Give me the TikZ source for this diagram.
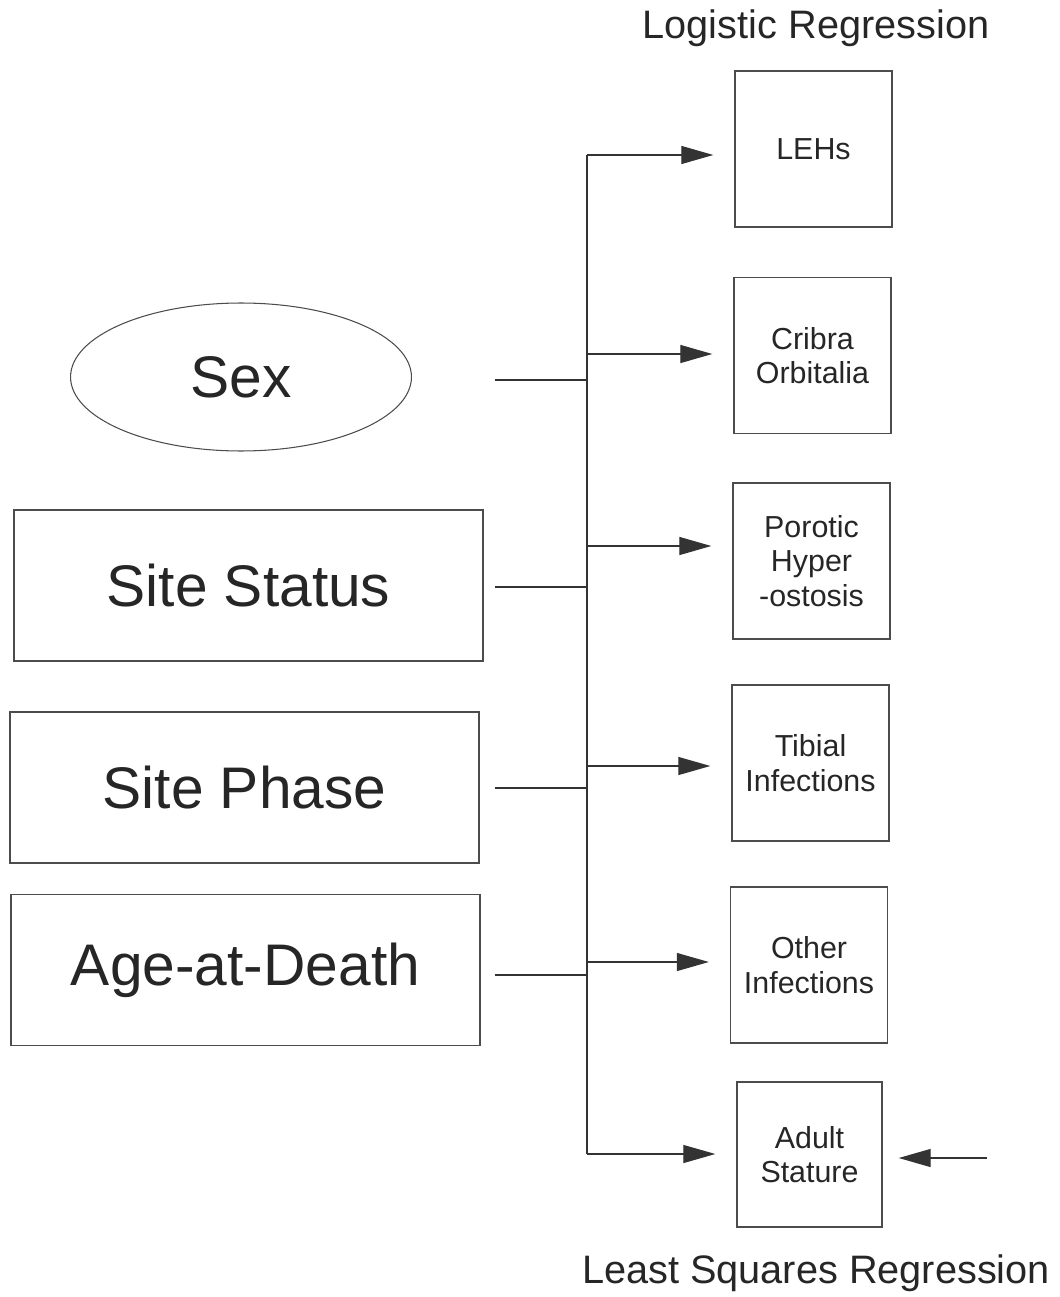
\documentclass[tikz,border=0pt]{standalone}
\usepackage{fontspec}
\setmainfont{Liberation Sans}
\usetikzlibrary{arrows.meta,shapes.geometric}

\begin{document}
\begin{tikzpicture}[x=0.02cm,y=-0.02cm,
    bigbox/.style={draw=black!70,line width=0.8pt,minimum width=9.38cm,minimum height=3.02cm,
      font=\fontsize{33.4}{38}\selectfont,text=black!85},
    smallbox/.style={draw=black!70,line width=0.8pt,minimum width=3.14cm,minimum height=3.12cm,
      align=center,font=\fontsize{17.3}{19.5}\selectfont,text=black!85},
    title/.style={font=\fontsize{22.6}{26}\selectfont,text=black!85},
    link/.style={line width=0.7pt,draw=black!80},
    arr/.style={link,-{Triangle[length=0.64cm,width=0.36cm]}}]
            \useasboundingbox (0,0) rectangle (1060,1297);

            % predictors
            \node[ellipse,draw=black!70,line width=0.6pt,minimum width=6.82cm,minimum height=2.96cm,
              font=\fontsize{33.4}{38}\selectfont,text=black!85] (sex) at (241,377) {Sex};
            \node[bigbox] (status) at (248.5,585.5) {Site Status};
            \node[bigbox] (phase) at (244.5,787.5) {Site Phase};
            \node[bigbox] (age) at (245.5,970) {Age-at-Death};

            % outcomes
            \node[smallbox] (leh) at (813.5,149) {LEHs};
            \node[smallbox] (cribra) at (812.5,355.5) {Cribra\\Orbitalia};
            \node[smallbox] (porotic) at (811.5,561) {Porotic\\Hyper\\-ostosis};
            \node[smallbox] (tibial) at (810.5,763) {Tibial\\Infections};
            \node[smallbox] (other) at (809,965) {Other\\Infections};
            \node[smallbox,minimum width=2.9cm,minimum height=2.9cm] (stature) at (809.5,1154.5) {Adult\\Stature};

            \node[title] (logit) at (816,28) {Logistic Regression};
            \node[title] (lsr) at (816,1273) {Least Squares Regression};

            % trunk
            \coordinate (trunktop) at (587,155);
            \coordinate (trunkbot) at (587,1154);
            \draw[link] (trunktop) -- (trunkbot);

            \foreach \n/\dy in {sex/3,status/1.5,phase/0.5,age/5}
                \draw[link,shorten <=0.22cm] ([yshift=-\dy*0.02cm]\n.east -| status.east) -- ([yshift=-\dy*0.02cm]\n.east -| trunktop);
            \foreach \n/\dy in {leh/6,cribra/-1.5,porotic/-15,tibial/3,other/-3,stature/-0.5}
                \draw[arr,shorten >=0.42cm] ([yshift=-\dy*0.02cm]\n.west -| trunktop) -- ([yshift=-\dy*0.02cm]\n.west);

            \coordinate (lsrin) at (987,1158);
            \draw[arr,shorten >=0.32cm] (lsrin) -- (lsrin -| stature.east);
        \end{tikzpicture}
\end{document}
